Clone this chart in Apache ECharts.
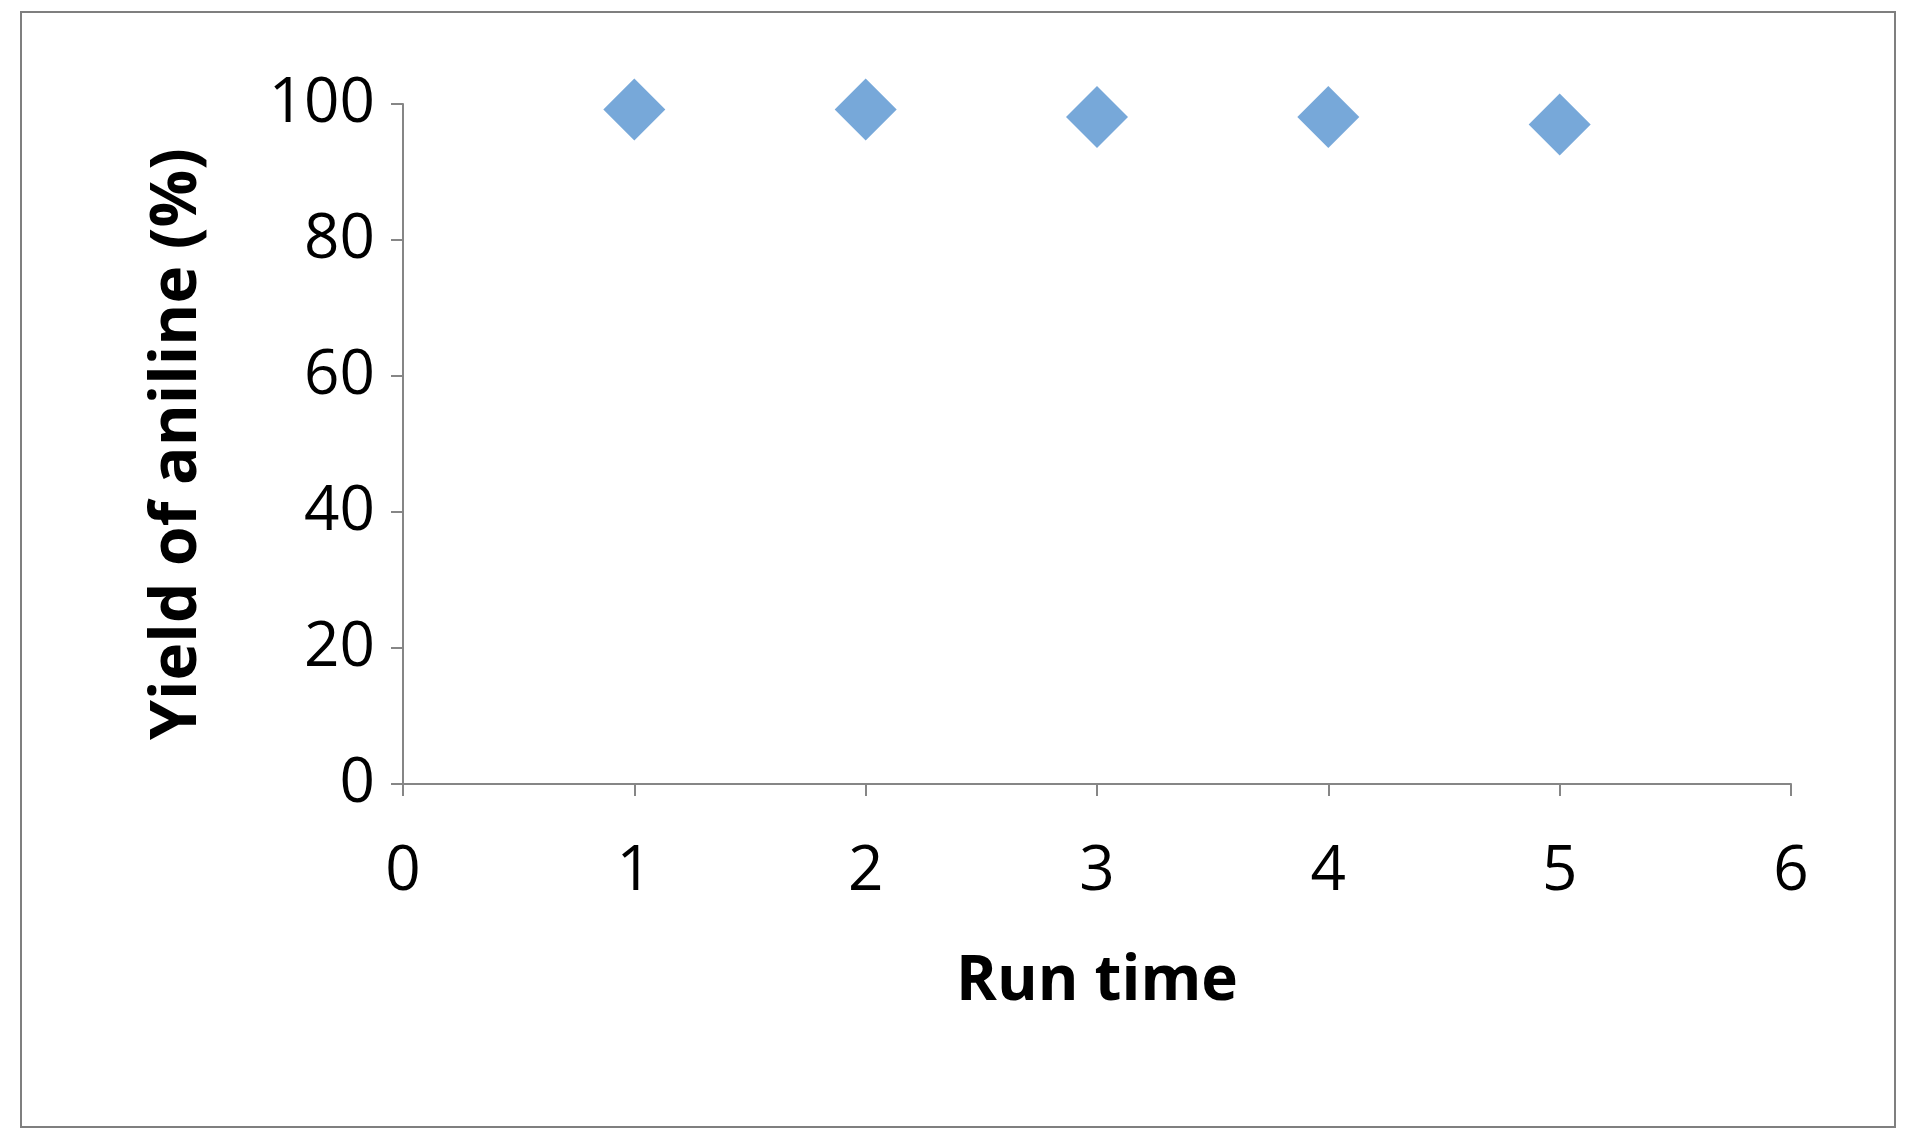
<!DOCTYPE html>
<html><head><meta charset="utf-8">
<script src="https://cdn.jsdelivr.net/npm/echarts@6/dist/echarts.min.js"></script>
<style>html,body{margin:0;background:#fff}#c{width:1917px;height:1146px}</style>
</head><body><div id="c"></div>
<script>
// run number vs yield
const runs = [1, 2, 3, 4, 5]
const yields = [99.2, 99.2, 98.1, 98.1, 97.0]
const xTicks = [0, 6, 1]
const yTicks = [0, 100, 20]

const chart = echarts.init(document.getElementById('c'))
const axisCol = '#868686'
chart.setOption({
  animation: false,
  textStyle: { fontFamily: 'Open Sans, Liberation Sans, sans-serif' },
  graphic: [{
    type: 'rect', shape: { x: 21, y: 12, width: 1874, height: 1115 },
    style: { fill: 'none', stroke: '#7f7f7f', lineWidth: 2 }
  }],
  grid: { left: 403, right: 126, top: 104, bottom: 362 },
  xAxis: {
    type: 'value', min: xTicks[0], max: xTicks[1], interval: xTicks[2],
    name: 'Run time', nameLocation: 'middle', nameGap: 167,
    nameTextStyle: { fontSize: 62, fontWeight: 'bold', color: '#000' },
    axisLine: { lineStyle: { color: axisCol, width: 2 } },
    axisTick: { show: true, length: 12, lineStyle: { color: axisCol, width: 2 } },
    axisLabel: { fontSize: 62, color: '#000', margin: 57 },
    splitLine: { show: false }
  },
  yAxis: {
    type: 'value', min: yTicks[0], max: yTicks[1], interval: yTicks[2],
    name: 'Yield of aniline (%)', nameLocation: 'middle', nameGap: 193,
    nameTextStyle: { fontSize: 64, fontWeight: 'bold', color: '#000' },
    axisLine: { show: true, lineStyle: { color: axisCol, width: 2 } },
    axisTick: { show: true, length: 12, lineStyle: { color: axisCol, width: 2 } },
    axisLabel: { fontSize: 62, color: '#000', margin: 28 },
    splitLine: { show: false }
  },
  series: [{
    type: 'scatter', symbol: 'diamond', symbolSize: 62,
    itemStyle: { color: '#5592D0' },
    data: runs.map((r, i) => [r, yields[i]])
  }]
})
</script></body></html>
